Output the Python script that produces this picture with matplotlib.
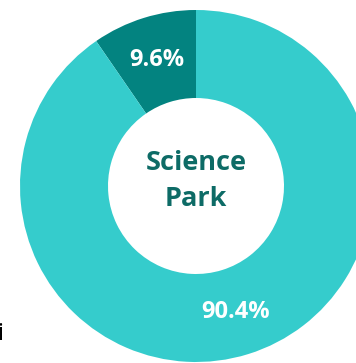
import matplotlib
matplotlib.use("Agg")
import matplotlib.pyplot as plt

categories = ["Other", "Science Park"]
values = [9.6, 90.4]
colors = ["#038380", "#35CCCC"]
center_label = "Science\nPark"

W, H = 356, 363
fig = plt.figure(figsize=(W / 100, H / 100), dpi=100)
ax = fig.add_axes([0, 0, 1, 1])
ax.set_xlim(0, W)
ax.set_ylim(0, H)
ax.set_aspect("equal")
ax.axis("off")

cx, cy = 196, H - 186
R = 176
wedges, texts, autotexts = ax.pie(
    values, colors=colors, startangle=90, counterclock=True,
    center=(cx, cy), radius=R, autopct="%.1f%%", pctdistance=0.75,
    wedgeprops=dict(width=R * 0.5, linewidth=0),
    textprops=dict(color="white", fontsize=17, fontweight="bold", family="Open Sans"),
    frame=True,
)
ax.set_xlim(0, W)
ax.set_ylim(0, H)
ax.axis("off")

ax.text(cx, cy + 5, center_label, ha="center", va="center", fontsize=19.5,
        fontweight="bold", family="Open Sans", color="#0D6B66", linespacing=1.5)

ax.text(-3, H - 334, "i", ha="left", va="center", fontsize=17, color="black",
        family="Open Sans")

fig.savefig("out.png", dpi=100)
